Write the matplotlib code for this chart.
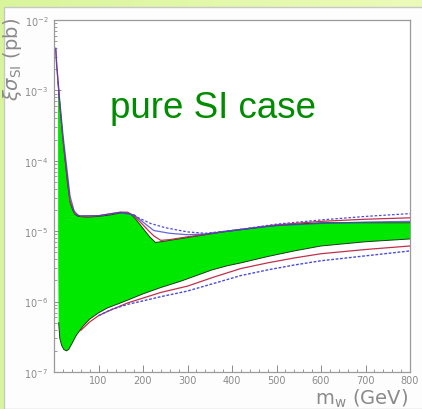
import numpy as np
import matplotlib
matplotlib.use("Agg")
import matplotlib.pyplot as plt
from matplotlib.patches import Rectangle
from matplotlib.ticker import FixedLocator, MultipleLocator, LogLocator, NullFormatter, FuncFormatter

# --- allowed region (log10 of xi*sigma_SI in pb) ---
m_upper = [9, 12, 15, 20, 25, 30, 36, 42, 47, 55, 75, 100, 125, 150, 165, 175, 185,
           200, 215, 228, 240, 270, 300, 340, 380, 420, 480, 540, 600, 700, 800]
lg_upper = [-2.88, -3.12, -3.35, -3.69, -4.00, -4.30, -4.59, -4.70, -4.76, -4.79, -4.80,
            -4.79, -4.77, -4.74, -4.74, -4.77, -4.84, -4.96, -5.08, -5.16, -5.15, -5.12,
            -5.09, -5.05, -5.01, -4.98, -4.93, -4.90, -4.88, -4.88, -4.88]

m_lower = [9, 9.5, 10.5, 13, 17, 22, 28, 33, 40, 50, 65, 80, 100, 120, 145, 165, 200,
           240, 285, 320, 355, 390, 420, 480, 540, 600, 700, 800]
lg_lower = [-2.88, -5.50, -6.30, -6.52, -6.62, -6.68, -6.70, -6.68, -6.60, -6.48, -6.35,
            -6.25, -6.16, -6.09, -6.03, -5.98, -5.89, -5.80, -5.71, -5.63, -5.55, -5.49,
            -5.45, -5.36, -5.28, -5.21, -5.15, -5.11]

# --- boundary curves for other parameter choices ---
m_red_up = [4, 6, 9, 12, 20, 36, 47, 60, 100, 150, 165, 180, 200, 215, 225, 240, 260,
            300, 400, 500, 600, 700, 800]
lg_red_up = [-2.42, -2.65, -2.88, -3.12, -3.69, -4.57, -4.75, -4.79, -4.78, -4.73, -4.73,
             -4.78, -4.91, -5.01, -5.07, -5.13, -5.12, -5.08, -4.99, -4.91, -4.86, -4.83,
             -4.81]

m_blue_up = [4, 6, 9, 12, 20, 36, 45, 55, 100, 150, 180, 200, 224, 260, 300, 340, 400,
             500, 600, 700, 800]
lg_blue_up = [-2.40, -2.62, -2.85, -3.08, -3.62, -4.50, -4.71, -4.78, -4.78, -4.73, -4.77,
              -4.87, -4.99, -5.03, -5.05, -5.04, -4.99, -4.92, -4.89, -4.87, -4.86]

m_blue_dash_up = [150, 180, 190, 217, 250, 300, 340, 400, 500, 600, 700, 800]
lg_blue_dash_up = [-4.74, -4.77, -4.81, -4.89, -4.95, -5.01, -5.03, -4.99, -4.90, -4.84,
                   -4.79, -4.75]

m_red_lo = [60, 80, 100, 120, 165, 200, 240, 300, 360, 420, 480, 540, 600, 700, 800]
lg_red_lo = [-6.41, -6.29, -6.20, -6.14, -6.02, -5.95, -5.87, -5.78, -5.65, -5.53, -5.45,
             -5.38, -5.32, -5.26, -5.21]

m_blue_lo = [100, 130, 165, 200, 240, 300, 360, 420, 480, 540, 600, 700, 800]
lg_blue_lo = [-6.20, -6.11, -6.04, -5.99, -5.93, -5.85, -5.74, -5.63, -5.55, -5.48, -5.42,
              -5.35, -5.28]

x_ticks = [100, 200, 300, 400, 500, 600, 700, 800]
y_ticks = [1e-7, 1e-6, 1e-5, 1e-4, 1e-3, 1e-2]

W, H, DPI = 422, 410, 100
fig = plt.figure(figsize=(W / DPI, H / DPI), dpi=DPI)

# slide-style background
bg = fig.add_axes([0, 0, 1, 1], zorder=-10)
grad = np.linspace(0, 1, 256)[None, :]
cmap = matplotlib.colors.LinearSegmentedColormap.from_list("bg", ["#d9f59c", "#ecfbb9"])
bg.imshow(grad, aspect="auto", cmap=cmap, extent=[0, 1, 0, 1])
bg.add_patch(Rectangle((4 / W, 0), 1, 1 - 8 / H, facecolor="#fdfdfd",
                       edgecolor="#c8c8c8", linewidth=1.0))
bg.set_xlim(0, 1)
bg.set_ylim(0, 1)
bg.axis("off")

ax = fig.add_axes([54 / W, 1 - 373 / H, (410 - 54) / W, (373 - 21) / H])
ax.set_facecolor("white")
ax.set_yscale("log")
ax.set_xlim(0, 800)
ax.set_ylim(1e-7, 1e-2)

green = "#00e800"
poly_x = np.r_[m_upper, m_lower[::-1]]
poly_y = 10 ** np.r_[lg_upper, lg_lower[::-1]]
ax.fill(poly_x, poly_y, color=green, lw=0, zorder=2)
ax.plot(m_upper, 10 ** np.array(lg_upper), color="#1f3a1f", lw=0.7, zorder=3)
ax.plot(m_lower[2:], 10 ** np.array(lg_lower[2:]), color="#1f3a1f", lw=0.7, zorder=3)

ax.plot(m_red_up, 10 ** np.array(lg_red_up), color="#c0304a", lw=0.9, zorder=4)
ax.plot(m_blue_up, 10 ** np.array(lg_blue_up), color="#4040d0", lw=0.9, zorder=4, alpha=0.8)
ax.plot(m_blue_dash_up, 10 ** np.array(lg_blue_dash_up), color="#4a4ae0", lw=0.9,
        ls=(0, (2, 1.5)), zorder=4)
ax.plot(m_red_lo, 10 ** np.array(lg_red_lo), color="#c0304a", lw=0.9, zorder=4)
ax.plot(m_blue_lo, 10 ** np.array(lg_blue_lo), color="#4a4ae0", lw=1.0,
        ls=(0, (2, 1.2)), zorder=4)

tick_gray = "#8a8a8a"
for s in ax.spines.values():
    s.set_color("#9a9a9a")
    s.set_linewidth(0.9)

ax.xaxis.set_major_locator(FixedLocator(x_ticks))
ax.xaxis.set_minor_locator(MultipleLocator(20))
ax.yaxis.set_major_locator(FixedLocator(y_ticks))
ax.yaxis.set_minor_locator(LogLocator(base=10, subs=np.arange(2, 10)))
ax.yaxis.set_minor_formatter(NullFormatter())


def sci(v, pos):
    return r"$\mathregular{10^{%d}}$" % int(round(np.log10(v)))


ax.yaxis.set_major_formatter(FuncFormatter(sci))
ax.tick_params(which="both", direction="in", colors=tick_gray, labelcolor=tick_gray,
               labelsize=7, top=False, right=False)
ax.tick_params(which="major", length=5, width=0.7)
ax.tick_params(which="minor", length=2.5, width=0.6)
ax.tick_params(axis="x", pad=2)
ax.tick_params(axis="y", pad=4)

fig.text(13 / W, 1 - 18 / H, r"$\xi\sigma_{\mathregular{SI}}$ (pb)", rotation=90,
         ha="center", va="top", color="#8a8a8a", fontsize=14)
fig.text(408 / W, 1 - 405 / H, r"$\mathregular{m_w}$ (GeV)", ha="right", va="baseline",
         color="#8a8a8a", fontsize=14)
fig.text(110 / W, 1 - 118 / H, "pure SI case", ha="left", va="baseline",
         color="#008c00", fontsize=26.5, family="Liberation Sans")

fig.savefig("out.png", dpi=DPI)
